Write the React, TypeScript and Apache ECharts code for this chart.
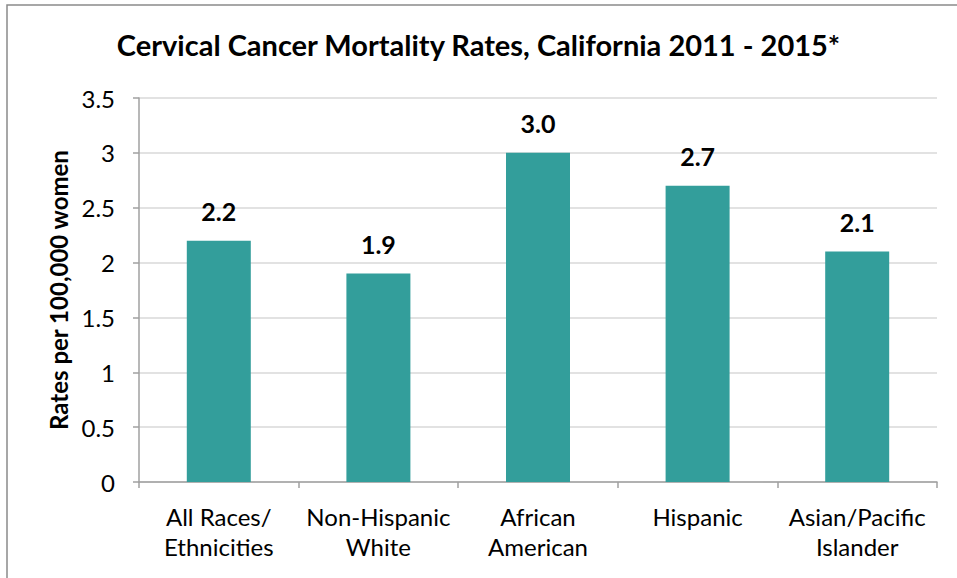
import React, { useEffect, useRef } from "react";
import * as echarts from "echarts";

const categories = ["All Races/\nEthnicities", "Non-Hispanic\nWhite", "African\nAmerican", "Hispanic", "Asian/Pacific\nIslander"];
const rates = [2.2, 1.9, 3.0, 2.7, 2.1];
const titleText = "Cervical Cancer Mortality Rates, California 2011 - 2015*";
const yAxisName = "Rates per 100,000 women";

const FONT = "Lato";

export default function App() {
  const ref = useRef<HTMLDivElement>(null);
  useEffect(() => {
    if (!ref.current) return;
    const chart = echarts.init(ref.current, undefined, { renderer: "svg" });
    chart.setOption({
      animation: false,
      backgroundColor: "#ffffff",
      textStyle: { fontFamily: FONT },
      title: {
        text: titleText,
        left: "center",
        top: 25,
        textStyle: { fontFamily: FONT, fontWeight: "bold", fontSize: 29, color: "#000" },
      },
      graphic: [
        {
          type: "rect",
          shape: { x: 7, y: 5, width: 960, height: 600 },
          style: { fill: "none", stroke: "#8a8a8a", lineWidth: 1.5 },
          silent: true,
          z: 100,
        },
      ],
      grid: { left: 139, right: 20, top: 98, bottom: 96, containLabel: false },
      xAxis: {
        type: "category",
        data: categories,
        axisLine: { lineStyle: { color: "#a0a0a0", width: 1.5 } },
        axisTick: { show: true, length: 6, lineStyle: { color: "#a0a0a0", width: 1.5 } },
        axisLabel: { fontFamily: FONT, fontSize: 24, color: "#000", margin: 19, lineHeight: 30, interval: 0 },
      },
      yAxis: {
        type: "value",
        min: 0,
        max: 3.5,
        interval: 0.5,
        name: yAxisName,
        nameLocation: "middle",
        nameRotate: 90,
        nameGap: 69,
        nameTextStyle: { fontFamily: FONT, fontWeight: "bold", fontSize: 24, color: "#000" },
        axisLine: { show: true, lineStyle: { color: "#a0a0a0", width: 1.5 } },
        axisTick: { show: true, length: 6, lineStyle: { color: "#a0a0a0", width: 1.5 } },
        axisLabel: { fontFamily: FONT, fontSize: 24, color: "#000", margin: 24 },
        splitLine: { lineStyle: { color: "#d9d9d9", width: 1.5 } },
      },
      series: [
        {
          type: "bar",
          data: rates,
          barWidth: 64,
          itemStyle: { color: "#339e9b" },
          label: {
            show: true,
            position: "top",
            distance: 17,
            formatter: (p: any) => Number(p.value).toFixed(1),
            fontFamily: FONT,
            fontWeight: "bold",
            fontSize: 25,
            color: "#000",
          },
        },
      ],
    });
    return () => chart.dispose();
  }, []);
  return (
    <div
      ref={ref}
      style={{ position: "fixed", left: 0, top: 0, width: 957, height: 578 }}
    />
  );
}
